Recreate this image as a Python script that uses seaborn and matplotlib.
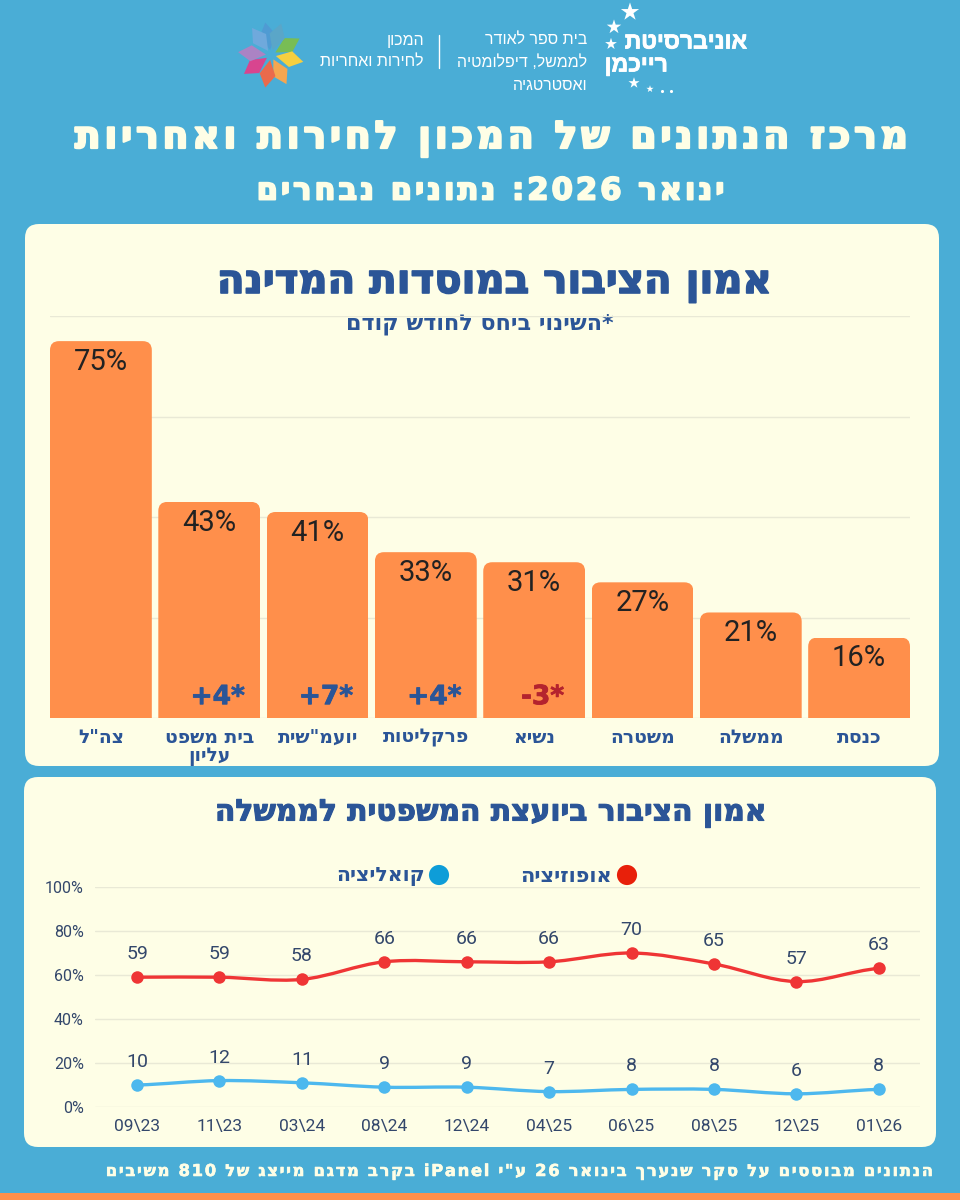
import re
import numpy as np
import pandas as pd
import matplotlib
matplotlib.use('Agg')
import matplotlib.pyplot as plt
import matplotlib.patheffects as pe
from matplotlib.patches import FancyBboxPatch, PathPatch, Polygon
from matplotlib.path import Path
import seaborn as sns

# trust in institutions (bars)
institutions = ['צה"ל', 'בית משפט\nעליון', 'יועמ"שית', 'פרקליטות', 'נשיא', 'משטרה', 'ממשלה', 'כנסת']
trust = [75, 43, 41, 33, 31, 27, 21, 16]
change = ['', '+4*', '+7*', '+4*', '-3*', '', '', '']

# trust in the attorney general (lines)
months = [r'09\23', r'11\23', r'03\24', r'08\24', r'12\24', r'04\25', r'06\25', r'08\25', r'12\25', r'01\26']
opposition = [59, 59, 58, 66, 66, 66, 70, 65, 57, 63]
coalition = [10, 12, 11, 9, 9, 7, 8, 8, 6, 8]
y_ticks = [0, 20, 40, 60, 80, 100]

BG = '#4AADD6'
CARD = '#FEFEE6'
ORANGE = '#FF8F4B'
BLUE = '#2B5597'
GRID = '#E9E9D6'
HEAVY = 'DejaVu Sans'
LIGHT = 'Liberation Sans'
NUM = 'Roboto'


def rtl(text, spacing=0):
    # matplotlib has no bidi, so put Hebrew in visual order and keep latin/digits as they are
    lines = []
    for line in text.split('\n'):
        flipped = re.sub(r'[A-Za-z0-9]+', lambda m: m.group(0)[::-1], line[::-1])
        lines.append(('\u200a' * spacing).join(flipped))
    return '\n'.join(lines)


def px_axes(fig, x0, y0, x1, y1):
    return fig.add_axes([x0 / 960, 1 - y1 / 1200, (x1 - x0) / 960, (y1 - y0) / 1200])


def bold(width=0.6, color=BLUE):
    return [pe.withStroke(linewidth=width, foreground=color)]


def smooth_curve(values):
    # bezier through the values, same look as the rounded lines of the original
    pts = list(enumerate(values))
    verts = [pts[0]]
    codes = [Path.MOVETO]
    for i in range(len(pts) - 1):
        before = values[max(i - 1, 0)]
        after = values[min(i + 2, len(values) - 1)]
        verts += [(i + 1 / 3, values[i] + (values[i + 1] - before) / 6),
                  (i + 2 / 3, values[i + 1] - (after - values[i]) / 6),
                  (i + 1, values[i + 1])]
        codes += [Path.CURVE4] * 3
    return Path(verts, codes)


sns.set_theme(style='white')
plt.rcParams['font.family'] = [HEAVY]

fig = plt.figure(figsize=(9.6, 12), dpi=100, facecolor=BG)

# background layer in pixels: cards, header, footer
bg = fig.add_axes([0, 0, 1, 1])
bg.set_xlim(0, 960)
bg.set_ylim(1200, 0)
bg.axis('off')

for x0, y0, x1, y1 in [(25, 224, 939, 766), (24, 777, 936, 1147)]:
    bg.add_patch(FancyBboxPatch((x0 + 14, y0 + 14), x1 - x0 - 28, y1 - y0 - 28,
                                boxstyle='round,pad=14,rounding_size=14', fc=CARD, ec='none'))
bg.fill_between([0, 960], 1193, 1200, color=ORANGE, lw=0)

# logo flower
petals = [(100, '#4F9BD3'), (125, '#6FA9DC'), (30, '#78BD55'), (-12, '#F6CF3F'), (-62, '#F5A650'),
          (-100, '#EA6A4C'), (-145, '#D8458F'), (175, '#AB83C4'), (72, '#5AA6C8')]
for angle, colour in petals:
    a = np.radians(angle)
    d = np.array([np.cos(a), -np.sin(a)])
    n = np.array([d[1], -d[0]])
    c = np.array([271, 55])
    bg.add_patch(Polygon([c + 5 * d, c + 20 * d + 8 * n, c + 33 * d, c + 20 * d - 8 * n], fc=colour, ec='none'))

# university logo stars
bg.scatter([630, 614, 611, 634, 650], [12, 27, 44, 83, 89], s=[190, 120, 80, 70, 30], marker='*', color='white', lw=0)
bg.scatter([662, 671], [91, 91], s=5, color='white', lw=0)
bg.text(747, 42, rtl('אוניברסיטת'), ha='right', va='center', color='white', fontsize=16.5, family=LIGHT, weight='bold',
        path_effects=bold(0.6, 'white'))
bg.text(668, 65, rtl('רייכמן'), ha='right', va='center', color='white', fontsize=16.5, family=LIGHT, weight='bold',
        path_effects=bold(0.6, 'white'))
for y, line in zip([40, 62, 85], ['בית ספר לאודר', 'לממשל, דיפלומטיה', 'ואסטרטגיה']):
    bg.text(587, y, rtl(line), ha='right', va='center', color='white', fontsize=11.5, family=LIGHT)
for y, line in zip([40, 62], ['המכון', 'לחירות ואחריות']):
    bg.text(424, y, rtl(line), ha='right', va='center', color='white', fontsize=11.5, family=LIGHT)
bg.plot([439, 439], [35, 68], color='white', lw=1)

bg.text(490, 139, rtl('מרכז הנתונים של המכון לחירות ואחריות', 1), ha='center', va='center', color=CARD,
        fontsize=27.2, weight='bold', path_effects=bold(1.6, CARD))
bg.text(489, 191, rtl('ינואר 2026: נתונים נבחרים', 1), ha='center', va='center', color=CARD,
        fontsize=22, weight='bold', path_effects=bold(1.4, CARD))
bg.text(494, 283, rtl('אמון הציבור במוסדות המדינה'), ha='center', va='center', color=BLUE,
        fontsize=29, weight='bold', path_effects=bold(1.2))
bg.text(480, 324, rtl('*השינוי ביחס לחודש קודם'), ha='center', va='center', color=BLUE, fontsize=16, weight='bold')
bg.text(491, 813, rtl('אמון הציבור ביועצת המשפטית לממשלה'), ha='center', va='center', color=BLUE,
        fontsize=21.4, weight='bold', path_effects=bold(0.8))
bg.text(933, 1172, rtl('הנתונים מבוססים על סקר שנערך בינואר 26 ע"י iPanel בקרב מדגם מייצג של 810 משיבים', 1),
        ha='right', va='center', color=CARD, fontsize=11.85, weight='bold', path_effects=bold(0.4, CARD))

# legend
bg.scatter([627, 439], [875, 875], s=210, color=['#E8200A', '#0E9DD8'], lw=0)
bg.text(612, 876, rtl('אופוזיציה'), ha='right', va='center', color=BLUE, fontsize=15, weight='bold')
bg.text(425, 876, rtl('קואליציה'), ha='right', va='center', color=BLUE, fontsize=14.7, weight='bold')

# bar chart
ax = px_axes(fig, 50, 316, 910, 718)
ax.patch.set_alpha(0)
bars = pd.DataFrame({'institution': institutions, 'trust': trust})
sns.barplot(data=bars, x='institution', y='trust', color=ORANGE, saturation=1, width=0.94, linewidth=0, ax=ax, zorder=2)
ax.set_xlim(-0.47, 7.47)
ax.set_ylim(0, 80)
ax.set_yticks([0, 20, 40, 60, 80])
ax.set_yticklabels([])
ax.yaxis.grid(True, color=GRID, lw=1)
ax.set_axisbelow(True)
ax.set_xlabel('')
ax.set_ylabel('')
sns.despine(ax=ax, left=True, bottom=True, top=True, right=True)
ax.set_xticks(range(len(institutions)))
ax.set_xticklabels([rtl(t) for t in institutions], color=BLUE, fontsize=13.5, weight='bold', linespacing=0.95)
ax.tick_params(axis='x', length=0, pad=7)
ax.tick_params(axis='y', length=0)

# round the top corners of each bar
x_px = 860 / 7.94
y_px = 402 / 80
for bar in ax.patches:
    rounded = FancyBboxPatch((bar.get_x(), -5), bar.get_width(), bar.get_height() + 5,
                             boxstyle=f'round,pad=0,rounding_size={9 / x_px}', mutation_aspect=x_px / y_px,
                             transform=ax.transData)
    bar.set_clip_path(rounded)

for i, (value, delta) in enumerate(zip(trust, change)):
    ax.annotate(f'{value}%', (i, value), xytext=(0, -15), textcoords='offset points', ha='center', va='center',
                fontsize=21, family=NUM, color='#222222', zorder=3)
    if delta:
        ax.annotate(delta, (i, 0), xytext=(6, 15), textcoords='offset points', ha='center', va='center',
                    fontsize=19, weight='bold', color='#B4232E' if delta[0] == '-' else BLUE, zorder=3,
                    path_effects=bold(0.6, '#B4232E' if delta[0] == '-' else BLUE))

# line chart
ax2 = px_axes(fig, 95, 887, 920, 1107)
ax2.patch.set_alpha(0)
lines = pd.DataFrame({'month': months, 'opposition': opposition, 'coalition': coalition})
for column, colour in [('opposition', '#EF3535'), ('coalition', '#4DB8EE')]:
    sns.lineplot(data=lines, x='month', y=column, sort=False, color=colour, marker='o', markersize=9,
                 markeredgewidth=0, linewidth=0, ax=ax2, zorder=3)
    ax2.add_patch(PathPatch(smooth_curve(lines[column].tolist()), fc='none', ec=colour, lw=2.4, zorder=3))
    for i, value in enumerate(lines[column]):
        ax2.annotate(str(value), (i, value), xytext=(0, 16.5), textcoords='offset points', ha='center', va='center',
                     fontsize=14, family=NUM, color='#33476B')
ax2.set_xlim(-0.51, 9.5)
ax2.set_ylim(0, 100)
ax2.set_yticks(y_ticks)
ax2.set_yticklabels([f'{t}%' for t in y_ticks], family=NUM, fontsize=11.5, color='#33476B')
ax2.set_xticks(range(len(months)))
ax2.set_xticklabels(months, family=NUM, fontsize=12.5, color='#33476B')
ax2.yaxis.grid(True, color=GRID, lw=1)
ax2.set_axisbelow(True)
ax2.set_xlabel('')
ax2.set_ylabel('')
sns.despine(ax=ax2, left=True, bottom=True, top=True, right=True)
ax2.tick_params(axis='x', length=0, pad=9)
ax2.tick_params(axis='y', length=0, pad=8)

fig.savefig('out.png', dpi=100, facecolor=BG)
